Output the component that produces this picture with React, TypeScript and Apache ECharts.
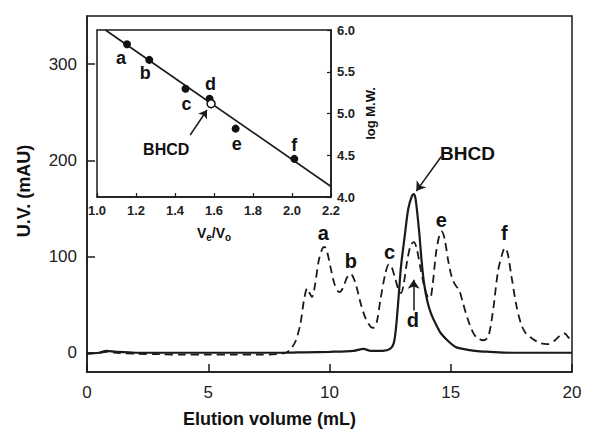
import React, { useEffect, useRef } from "react";
import * as echarts from "echarts";

// ---- Main chromatogram (Elution volume mL, U.V. mAU) ----
const standardsTrace: [number, number][] = [
  [0, -1], [0.5, 0], [0.8, 1], [1.2, 0], [2, -1], [3, -1.5], [4, -2], [5, -2], [6, -2], [7, -2],
  [7.8, -1.5], [8.2, 0], [8.4, 4], [8.6, 12], [8.8, 30], [8.95, 55], [9.08, 67], [9.18, 62],
  [9.28, 58], [9.4, 70], [9.55, 95], [9.7, 108], [9.8, 110], [9.9, 105], [10.05, 88], [10.2, 72],
  [10.4, 63], [10.55, 67], [10.7, 77], [10.85, 82], [10.95, 80], [11.1, 70], [11.3, 50], [11.5, 35],
  [11.7, 27], [11.82, 26], [11.95, 32], [12.1, 55], [12.3, 82], [12.45, 92], [12.55, 90], [12.7, 78],
  [12.85, 65], [12.95, 62], [13.05, 70], [13.2, 95], [13.35, 112], [13.48, 115], [13.6, 108],
  [13.75, 88], [13.9, 70], [14.05, 58], [14.15, 57], [14.25, 70], [14.4, 105], [14.55, 124],
  [14.63, 126], [14.75, 118], [14.9, 95], [15.05, 78], [15.2, 70], [15.35, 65], [15.5, 52],
  [15.7, 35], [15.9, 22], [16.1, 15], [16.35, 13], [16.55, 17], [16.75, 45], [16.95, 85],
  [17.15, 105], [17.24, 109], [17.35, 103], [17.5, 80], [17.7, 50], [17.9, 30], [18.1, 20],
  [18.4, 14], [18.7, 10], [19.0, 9], [19.3, 13], [19.55, 19], [19.7, 20], [19.85, 16], [20, 12],
];

const bhcdTrace: [number, number][] = [
  [0, -1], [0.5, 0], [0.8, 2], [1.2, 1], [2, 0], [4, 0], [6, 0], [8, 0], [9, 0.5], [10, 1],
  [11, 2], [11.4, 4], [11.7, 2], [12.2, 2], [12.5, 4], [12.65, 10], [12.75, 28], [12.85, 58],
  [12.95, 90], [13.1, 121], [13.25, 150], [13.4, 163], [13.47, 165], [13.55, 160], [13.7, 125],
  [13.8, 95], [13.9, 72], [14.05, 52], [14.2, 40], [14.4, 29], [14.6, 20], [14.9, 12], [15.2, 6],
  [15.5, 4], [16, 2], [16.6, 1], [17.5, 0], [20, 0],
];

const peakNames = ["a", "b", "c", "d", "e", "f"];
const peakLabelX = [9.74, 10.88, 12.48, 13.44, 14.61, 17.21];
const peakLabelY = [124, 95, 105, 34, 138, 124];

const mainXTicks = [0, 5, 10, 15, 20];
const mainYTicks = [0, 100, 200, 300];

// ---- Inset calibration (Ve/Vo vs log M.W.) ----
const standardVeVo = [1.154, 1.268, 1.454, 1.577, 1.711, 2.012];
const standardLogMW = [5.83, 5.642, 5.296, 5.177, 4.819, 4.457];
const bhcdVeVo = 1.585;
const bhcdLogMW = 5.117;
const fitVeVo = [1.043, 2.2];
const fitLogMW = [6.0, 4.126];

const FONT = "'Liberation Sans', Arial, Helvetica, sans-serif";
const INK = "#1a1a1a";

export default function App() {
  const ref = useRef<HTMLDivElement>(null);

  useEffect(() => {
    if (!ref.current) return;
    const chart = echarts.init(ref.current, undefined, { renderer: "svg" });

    const insetOffsets: [number, number][] = [
      [-6, 14], [-4, 13], [1, 15], [1, -15], [1, 15], [0, -14],
    ];

    const option: any = {
      animation: false,
      backgroundColor: "#fff",
      textStyle: { fontFamily: FONT },
      grid: [
        { left: 87, top: 16, width: 485, height: 356, show: true, borderColor: INK, borderWidth: 1.5, backgroundColor: "transparent" },
        { left: 97, top: 30, width: 234, height: 167, show: true, borderColor: INK, borderWidth: 1.5, backgroundColor: "#fff" },
      ],
      xAxis: [
        {
          type: "value", gridIndex: 0, min: mainXTicks[0], max: mainXTicks[mainXTicks.length - 1], interval: 5,
          axisLine: { onZero: false, lineStyle: { color: INK, width: 1.5 } },
          axisTick: { inside: true, length: 8, lineStyle: { color: INK, width: 1.5 } },
          axisLabel: { fontSize: 17, color: "#222", margin: 12, fontFamily: FONT },
          splitLine: { show: false },
          name: "Elution volume (mL)", nameLocation: "middle", nameGap: 38,
          nameTextStyle: { fontSize: 18, fontWeight: "bold", color: "#111", fontFamily: FONT, padding: [0, 120, 0, 0] },
        },
        {
          type: "value", gridIndex: 1, min: 1.0, max: 2.2, interval: 0.2,
          axisLine: { onZero: false, lineStyle: { color: INK, width: 1.5 } },
          axisTick: { inside: true, length: 4, lineStyle: { color: INK, width: 1.2 } },
          axisLabel: { fontSize: 13, fontWeight: "bold", color: "#222", margin: 7, fontFamily: FONT, formatter: (v: number) => v.toFixed(1) },
          splitLine: { show: false },
          name: "{n|V}{s|e}{n|/V}{s|o}", nameLocation: "middle", nameGap: 27,
          nameTextStyle: {
            rich: {
              n: { fontSize: 14, fontWeight: "bold", color: "#111", fontFamily: FONT, lineHeight: 18 },
              s: { fontSize: 10, fontWeight: "bold", color: "#111", fontFamily: FONT, lineHeight: 10, verticalAlign: "bottom" },
            },
          },
        },
      ],
      yAxis: [
        {
          type: "value", gridIndex: 0, min: -20, max: 350,
          axisLine: { onZero: false, lineStyle: { color: INK, width: 1.5 } },
          axisTick: { inside: true, length: 8, lineStyle: { color: INK, width: 1.5 }, customValues: mainYTicks },
          axisLabel: { fontSize: 17, color: "#222", margin: 10, fontFamily: FONT, customValues: mainYTicks },
          splitLine: { show: false },
          name: "U.V. (mAU)", nameLocation: "middle", nameGap: 54, nameRotate: 90,
          nameTextStyle: { fontSize: 18, fontWeight: "bold", color: "#111", fontFamily: FONT, padding: [0, 0, 0, 6] },
        },
        {
          type: "value", gridIndex: 1, position: "right", min: 4, max: 6, interval: 0.5,
          axisLine: { onZero: false, lineStyle: { color: INK, width: 1.5 } },
          axisTick: { inside: true, length: 4, lineStyle: { color: INK, width: 1.2 } },
          axisLabel: { fontSize: 13, fontWeight: "bold", color: "#222", margin: 6, fontFamily: FONT, formatter: (v: number) => v.toFixed(1) },
          splitLine: { show: false },
          name: "log M.W.", nameLocation: "middle", nameGap: 33, nameRotate: 90,
          nameTextStyle: { fontSize: 13, fontWeight: "bold", color: "#111", fontFamily: FONT },
        },
      ],
      series: [
        {
          type: "line", xAxisIndex: 0, yAxisIndex: 0, data: standardsTrace, showSymbol: false, smooth: 0.3,
          lineStyle: { color: INK, width: 1.8, type: [8, 5] }, z: 3,
        },
        {
          type: "line", xAxisIndex: 0, yAxisIndex: 0, data: bhcdTrace, showSymbol: false, smooth: 0.3,
          lineStyle: { color: INK, width: 2.2, type: "solid" }, z: 4,
        },
        {
          type: "scatter", xAxisIndex: 0, yAxisIndex: 0, symbolSize: 0, silent: true, z: 5,
          itemStyle: { opacity: 1, color: "#111" },
          data: [
            ...peakNames.map((n, i) => ({ value: [peakLabelX[i], peakLabelY[i]], name: n })),
            { value: [15.69, 207.5], name: "BHCD", label: { fontSize: 19 } },
          ],
          label: {
            show: true, position: "inside", formatter: (p: any) => p.name,
            fontSize: 20, fontWeight: "bold", color: "#111", fontFamily: FONT,
          },
          markLine: {
            silent: true, symbol: ["none", "arrow"], symbolSize: 9,
            lineStyle: { color: INK, width: 1.5, type: "solid" }, label: { show: false },
            data: [
              [{ coord: [14.61, 204] }, { coord: [13.58, 168] }],
              [{ coord: [13.47, 44] }, { coord: [13.47, 76] }],
            ],
          },
        },
        {
          type: "line", xAxisIndex: 1, yAxisIndex: 1, showSymbol: false,
          data: fitVeVo.map((x, i) => [x, fitLogMW[i]]),
          lineStyle: { color: INK, width: 1.6 }, z: 6,
        },
        {
          type: "scatter", xAxisIndex: 1, yAxisIndex: 1, symbolSize: 8, z: 7,
          itemStyle: { color: "#111", opacity: 1 },
          data: standardVeVo.map((x, i) => ({
            value: [x, standardLogMW[i]], name: peakNames[i],
            label: { offset: insetOffsets[i] },
          })),
          label: {
            show: true, position: "inside", formatter: (p: any) => p.name,
            fontSize: 18, fontWeight: "bold", color: "#111", fontFamily: FONT,
          },
        },
        {
          type: "scatter", xAxisIndex: 1, yAxisIndex: 1, symbolSize: 8, z: 8,
          itemStyle: { color: "#fff", borderColor: "#111", borderWidth: 1.5, opacity: 1 },
          data: [[bhcdVeVo, bhcdLogMW]],
        },
        {
          type: "scatter", xAxisIndex: 1, yAxisIndex: 1, symbolSize: 0, silent: true, z: 8,
          itemStyle: { opacity: 1 },
          data: [{ value: [1.355, 4.564], name: "BHCD" }],
          label: {
            show: true, position: "inside", formatter: (p: any) => p.name,
            fontSize: 16, fontWeight: "bold", color: "#111", fontFamily: FONT,
          },
          markLine: {
            silent: true, symbol: ["none", "arrow"], symbolSize: 8,
            lineStyle: { color: INK, width: 1.5, type: "solid" }, label: { show: false },
            data: [[{ coord: [1.478, 4.743] }, { coord: [1.564, 5.042] }]],
          },
        },
      ],
    };

    chart.setOption(option);
    return () => chart.dispose();
  }, []);

  return (
    <div
      ref={ref}
      style={{ position: "fixed", left: 0, top: 0, width: 590, height: 439, background: "#fff" }}
    />
  );
}
